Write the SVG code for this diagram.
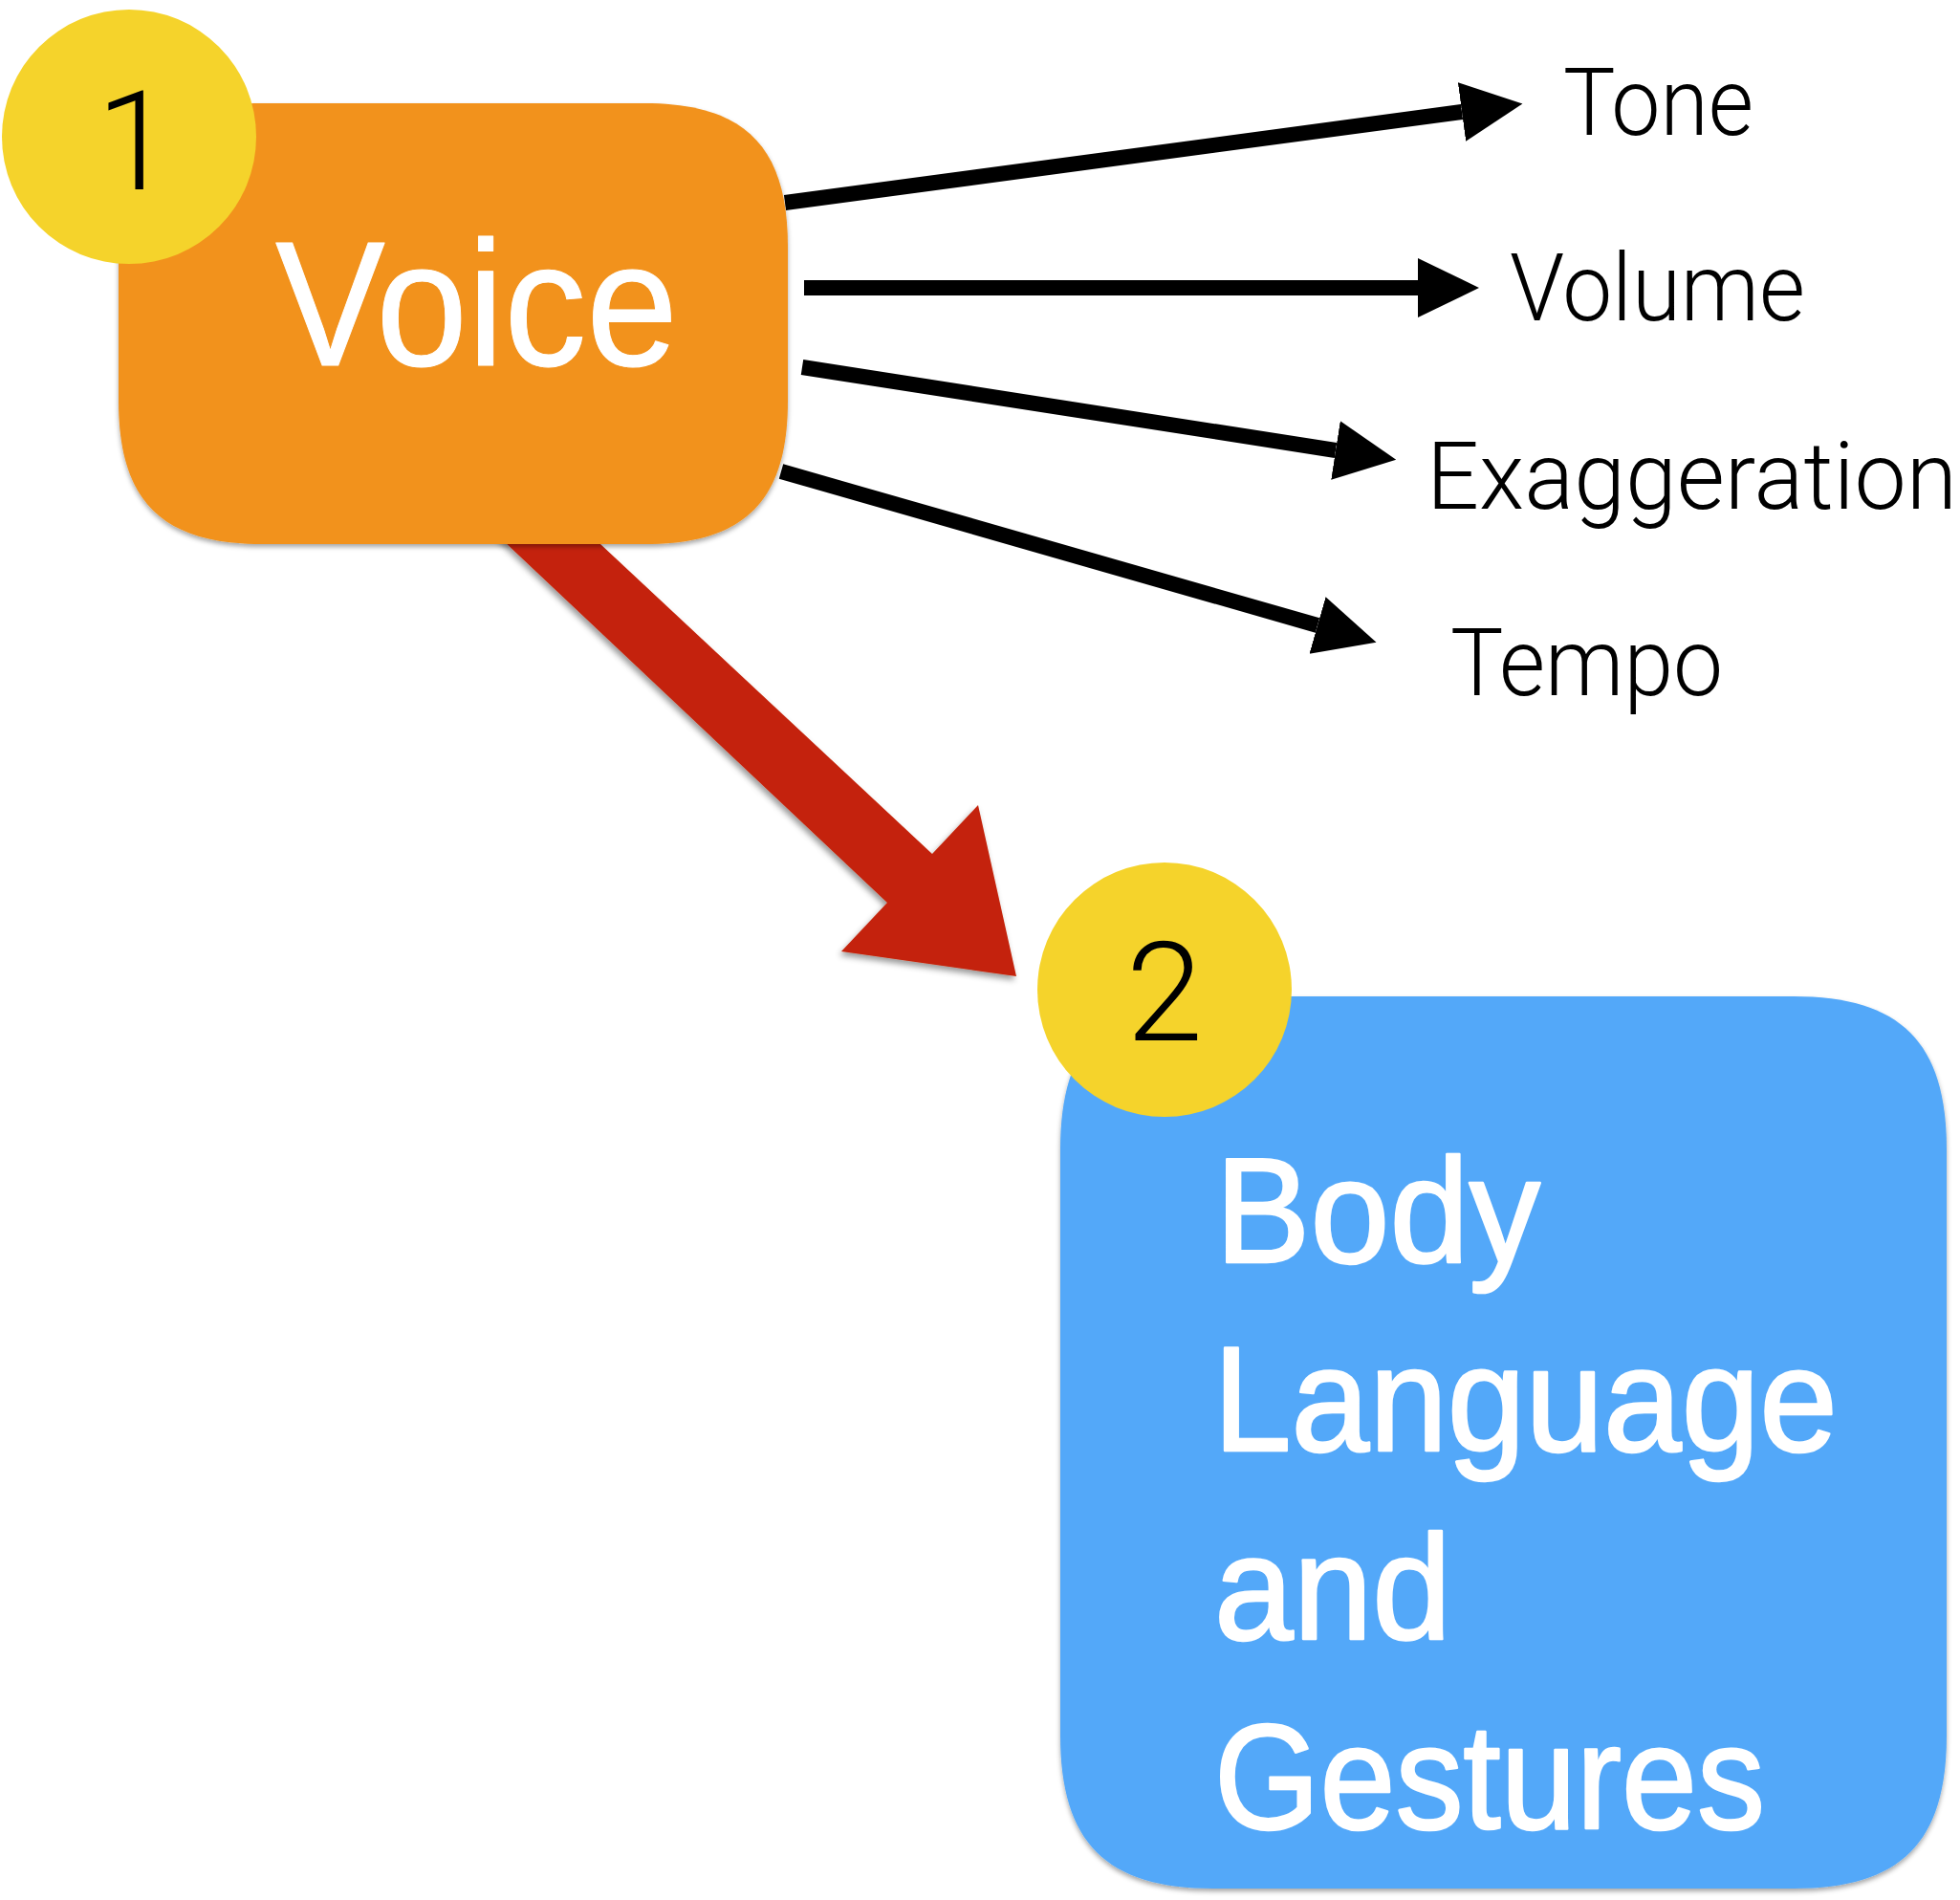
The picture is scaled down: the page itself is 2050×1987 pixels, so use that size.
<svg xmlns="http://www.w3.org/2000/svg" width="2050" height="1987" viewBox="0 0 2050 1987">
  <defs>
    <style>
      .box-text { font-family: "Liberation Sans", Arial, sans-serif; fill: #ffffff; stroke: #ffffff; stroke-linejoin: round; }
      .label { font-family: Roboto, "Liberation Sans", Arial, sans-serif; font-weight: 300; fill: #000000; font-size: 98px; }
      .badge { fill: #F5D32B; }
      .badge-num { font-family: Roboto, "Liberation Sans", Arial, sans-serif; font-weight: 300; font-size: 145px; fill: #000000; text-anchor: middle; }
      .branch { stroke: #000000; stroke-width: 16; fill: none; }
    </style>
    <filter id="boxShadow" x="-10%" y="-10%" width="120%" height="120%">
      <feDropShadow dx="0" dy="3" stdDeviation="2.5" flood-color="#000000" flood-opacity="0.35"/>
    </filter>
    <filter id="arrowShadow" x="-10%" y="-10%" width="120%" height="120%">
      <feDropShadow dx="-2" dy="4" stdDeviation="3" flood-color="#000000" flood-opacity="0.4"/>
    </filter>
    <marker id="head" markerUnits="userSpaceOnUse" markerWidth="66" markerHeight="64" refX="0" refY="31" orient="auto" viewBox="0 0 66 64">
      <path d="M0,0 L64,31 L0,62 Z" fill="#000000"/>
    </marker>
  </defs>

  <rect width="2050" height="1987" fill="#ffffff"/>

  <!-- connectors -->
  <g id="connectors">
    <!-- big red arrow from Voice to Body Language -->
    <polygon id="voice-to-body" points="553,499 975,893 1023,842 1063,1021 880,995 928,944 456,499" fill="#C42408" filter="url(#arrowShadow)"/>
    <!-- branches from Voice -->
    <line id="to-tone" class="branch" x1="821" y1="212" x2="1529" y2="117" marker-end="url(#head)"/>
    <line id="to-volume" class="branch" x1="841" y1="301" x2="1483" y2="301" marker-end="url(#head)"/>
    <line id="to-exaggeration" class="branch" x1="839" y1="384" x2="1397" y2="471" marker-end="url(#head)"/>
    <line id="to-tempo" class="branch" x1="817" y1="493" x2="1378" y2="654" marker-end="url(#head)"/>
  </g>

  <!-- node 1: Voice (squircle box 124..824 x 108..569, corner 150) -->
  <g id="node-voice">
    <path d="M274,108 H674 C779,108 824,153 824,258 V419 C824,524 779,569 674,569 H274 C169,569 124,524 124,419 V258 C124,153 169,108 274,108 Z" fill="#F2921C" filter="url(#boxShadow)"/>
    <text class="box-text" x="288" y="382" font-size="185" stroke-width="1" textLength="421" lengthAdjust="spacingAndGlyphs">Voice</text>
  </g>
  <g id="badge-1">
    <circle class="badge" cx="135" cy="143" r="133"/>
    <text class="badge-num" x="141" y="198">1</text>
  </g>

  <!-- node 2: Body Language and Gestures (squircle box 1109..2036 x 1042..1975, corner 160) -->
  <g id="node-body">
    <path d="M1269,1042 H1876 C1988,1042 2036,1090 2036,1202 V1815 C2036,1927 1988,1975 1876,1975 H1269 C1157,1975 1109,1927 1109,1815 V1202 C1109,1090 1157,1042 1269,1042 Z" fill="#53A8F9" filter="url(#boxShadow)"/>
    <text class="box-text" x="1271" y="1320" font-size="155" stroke-width="2.5" textLength="340" lengthAdjust="spacingAndGlyphs">Body</text>
    <text class="box-text" x="1269" y="1517" font-size="155" stroke-width="2.5" textLength="653" lengthAdjust="spacingAndGlyphs">Language</text>
    <text class="box-text" x="1270" y="1714" font-size="155" stroke-width="2.5" textLength="248" lengthAdjust="spacingAndGlyphs">and</text>
    <text class="box-text" x="1270" y="1912" font-size="155" stroke-width="2.5" textLength="576" lengthAdjust="spacingAndGlyphs">Gestures</text>
  </g>
  <g id="badge-2">
    <circle class="badge" cx="1218" cy="1035" r="133"/>
    <text class="badge-num" x="1218" y="1088">2</text>
  </g>

  <!-- branch labels -->
  <g id="label-tone"><text class="label" x="1635" y="141" textLength="199" lengthAdjust="spacingAndGlyphs">Tone</text></g>
  <g id="label-volume"><text class="label" x="1579" y="335" textLength="309" lengthAdjust="spacingAndGlyphs">Volume</text></g>
  <g id="label-exaggeration"><text class="label" x="1492" y="532" textLength="555" lengthAdjust="spacingAndGlyphs">Exaggeration</text></g>
  <g id="label-tempo"><text class="label" x="1517" y="727" textLength="285" lengthAdjust="spacingAndGlyphs">Tempo</text></g>
</svg>
